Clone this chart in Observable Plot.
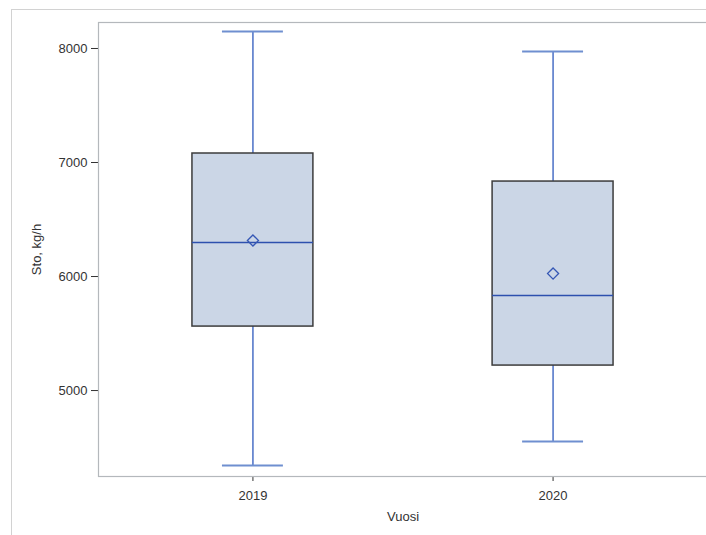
<!DOCTYPE html>
<html>
<head>
<meta charset="utf-8">
<script src="https://cdn.jsdelivr.net/npm/d3@7"></script>
<script src="https://cdn.jsdelivr.net/npm/@observablehq/plot@0.6"></script>
<style>
  html, body { margin: 0; padding: 0; background: #fff; overflow: hidden; }
  #wrap { position: relative; width: 706px; height: 535px; overflow: hidden; }
  #border { position: absolute; left: 11px; top: 9px; width: 800px; height: 600px;
            border-left: 1px solid #d2d2d2; border-top: 1px solid #d2d2d2; }
  #chart { position: absolute; left: 0; top: 0; }
  #chart svg { max-width: none !important; width: 710px !important; height: 535px !important; font-family: "Liberation Sans", Arial, sans-serif; }
</style>
</head>
<body>
<div id="wrap"><div id="border"></div><div id="chart"></div></div>
<script>
const years = ["2019", "2020"];
const minVals = [4342, 4553];
const q1Vals = [5561, 5219];
const medianVals = [6298, 5833];
const q3Vals = [7079, 6833];
const maxVals = [8149, 7974];
const meanVals = [6316, 6026];
const yTicks = [5000, 6000, 7000, 8000];

const data = years.map((year, i) => ({
  year, min: minVals[i], q1: q1Vals[i], median: medianVals[i],
  q3: q3Vals[i], max: maxVals[i], mean: meanVals[i]
}));

const whisker = "#4a6fc6";
const chart = Plot.plot({
  width: 710,
  height: 535,
  marginLeft: 98,
  marginRight: 3,
  marginTop: 22,
  marginBottom: 59,
  style: { fontSize: "13px", color: "#333", fontFamily: "Liberation Sans, Arial, sans-serif" },
  x: { type: "band", domain: years, round: false, paddingInner: 0.597, paddingOuter: 0.313, label: null, tickSize: 5, tickPadding: 9 },
  y: { domain: [4246, 8228], ticks: yTicks, tickFormat: d => String(d), label: null, tickSize: 7, tickPadding: 4 },
  marks: [
    Plot.ruleX(data, { x: "year", y1: "q3", y2: "max", stroke: whisker, strokeWidth: 1.5 }),
    Plot.ruleX(data, { x: "year", y1: "q1", y2: "min", stroke: whisker, strokeWidth: 1.5 }),
    Plot.tickY(data, { x: "year", y: "max", stroke: "#6f8fd0", strokeWidth: 2, insetLeft: 30, insetRight: 30 }),
    Plot.tickY(data, { x: "year", y: "min", stroke: "#6f8fd0", strokeWidth: 2, insetLeft: 30, insetRight: 30 }),
    Plot.barY(data, { x: "year", y1: "q1", y2: "q3", fill: "#cbd6e6", stroke: "#3c3c3c", strokeWidth: 1.5 }),
    Plot.tickY(data, { x: "year", y: "median", stroke: "#2d50ae", strokeWidth: 1.5 }),
    Plot.dot(data, { x: "year", y: "mean", symbol: "diamond2", r: 5, stroke: "#3557b5", strokeWidth: 1.3, fill: "none" }),
    Plot.frame({ stroke: "#b4b8bc", strokeWidth: 1.2 }),
    Plot.text(["Sto, kg/h"], { frameAnchor: "left", dx: -62, rotate: -90, textAnchor: "middle", lineAnchor: "middle", fill: "#333", fontSize: 13 }),
    Plot.text(["Vuosi"], { frameAnchor: "bottom", dy: 40, textAnchor: "middle", lineAnchor: "middle", fill: "#333", fontSize: 13 })
  ]
});
document.getElementById("chart").appendChild(chart);
</script>
</body>
</html>
